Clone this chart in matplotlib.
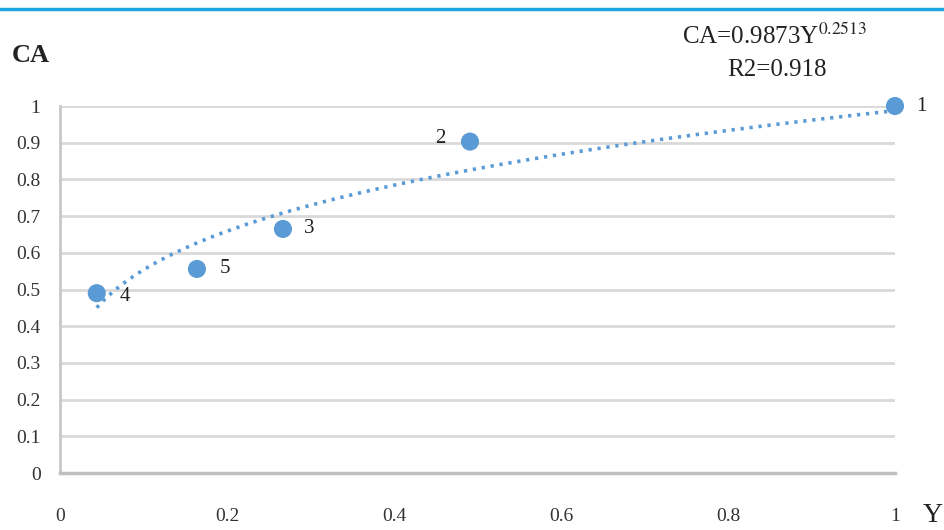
import numpy as np
import matplotlib.pyplot as plt

# data
point_ids = ["1", "2", "3", "4", "5"]
y_vals = [1.0, 0.491, 0.267, 0.044, 0.164]
ca_vals = [1.0, 0.903, 0.665, 0.49, 0.556]

# power trend line as stated on the chart
fit_a = 0.9873
fit_b = 0.2513
fit_r2 = 0.918

x_ticks = [0, 0.2, 0.4, 0.6, 0.8, 1]
y_ticks = [0, 0.1, 0.2, 0.3, 0.4, 0.5, 0.6, 0.7, 0.8, 0.9, 1]

blue = "#5b9bd5"
serif = ["Liberation Serif", "DejaVu Serif"]

fig = plt.figure(figsize=(9.44, 5.30), dpi=100)
ax = fig.add_axes([60 / 944, 57 / 530, 835 / 944, 367 / 530])

# top border line
fig.add_artist(plt.Line2D([0, 1], [1 - 9 / 530, 1 - 9 / 530], color="#1ba6df",
                          lw=2.5, transform=fig.transFigure))

# trend line
xs = np.linspace(min(y_vals), max(y_vals), 200)
ax.plot(xs, fit_a * xs ** fit_b, color=blue, lw=2.6,
        linestyle=(0, (0.9, 1.6)), zorder=3, clip_on=False)

ax.scatter(y_vals, ca_vals, s=170, color=blue, marker="o", zorder=4,
           clip_on=False, edgecolors="none")

offsets = {"1": (26, 0), "2": (-30, 3), "3": (26, 0), "4": (28, -3), "5": (28, 0)}
for pid, xv, yv in zip(point_ids, y_vals, ca_vals):
    dx, dy = offsets[pid]
    ax.annotate(pid, (xv, yv), xytext=(dx, dy), textcoords="offset pixels",
                ha="center", va="center", fontsize=15, color="#222222",
                family=serif, annotation_clip=False)

ax.set_xlim(0, 1)
ax.set_ylim(0, 1)
ax.set_xticks(x_ticks)
ax.set_yticks(y_ticks)
ax.set_xticklabels([f"{t:g}" for t in x_ticks], family=serif, fontsize=14)
ax.set_yticklabels([f"{t:g}" for t in y_ticks], family=serif, fontsize=14)
ax.tick_params(axis="both", length=0, colors="#333333")
ax.tick_params(axis="x", pad=25)
ax.tick_params(axis="y", pad=14)

ax.grid(axis="y", color="#d9d9d9", lw=2)
ax.set_axisbelow(True)
for side in ["top", "right"]:
    ax.spines[side].set_visible(False)
ax.spines["left"].set_color("#c8c8c8")
ax.spines["left"].set_linewidth(2)
ax.spines["bottom"].set_color("#bfbfbf")
ax.spines["bottom"].set_linewidth(2.5)

fig.text(31 / 944, 1 - 55 / 530, "CA", fontsize=19, fontweight="bold",
         family=serif, ha="center", va="center", color="#222222")
fig.text(933 / 944, 1 - 515 / 530, "Y", fontsize=20, family=serif,
         ha="center", va="center", color="#222222")

fig.text(775 / 944, 1 - 36 / 530, f"CA={fit_a}Y$^{{{fit_b}}}$", fontsize=18,
         family=serif, ha="center", va="center", color="#222222",
         math_fontfamily="stix")
fig.text(777 / 944, 1 - 70 / 530, f"R2={fit_r2}", fontsize=18,
         family=serif, ha="center", va="center", color="#222222")

fig.savefig("out.png", dpi=100)
